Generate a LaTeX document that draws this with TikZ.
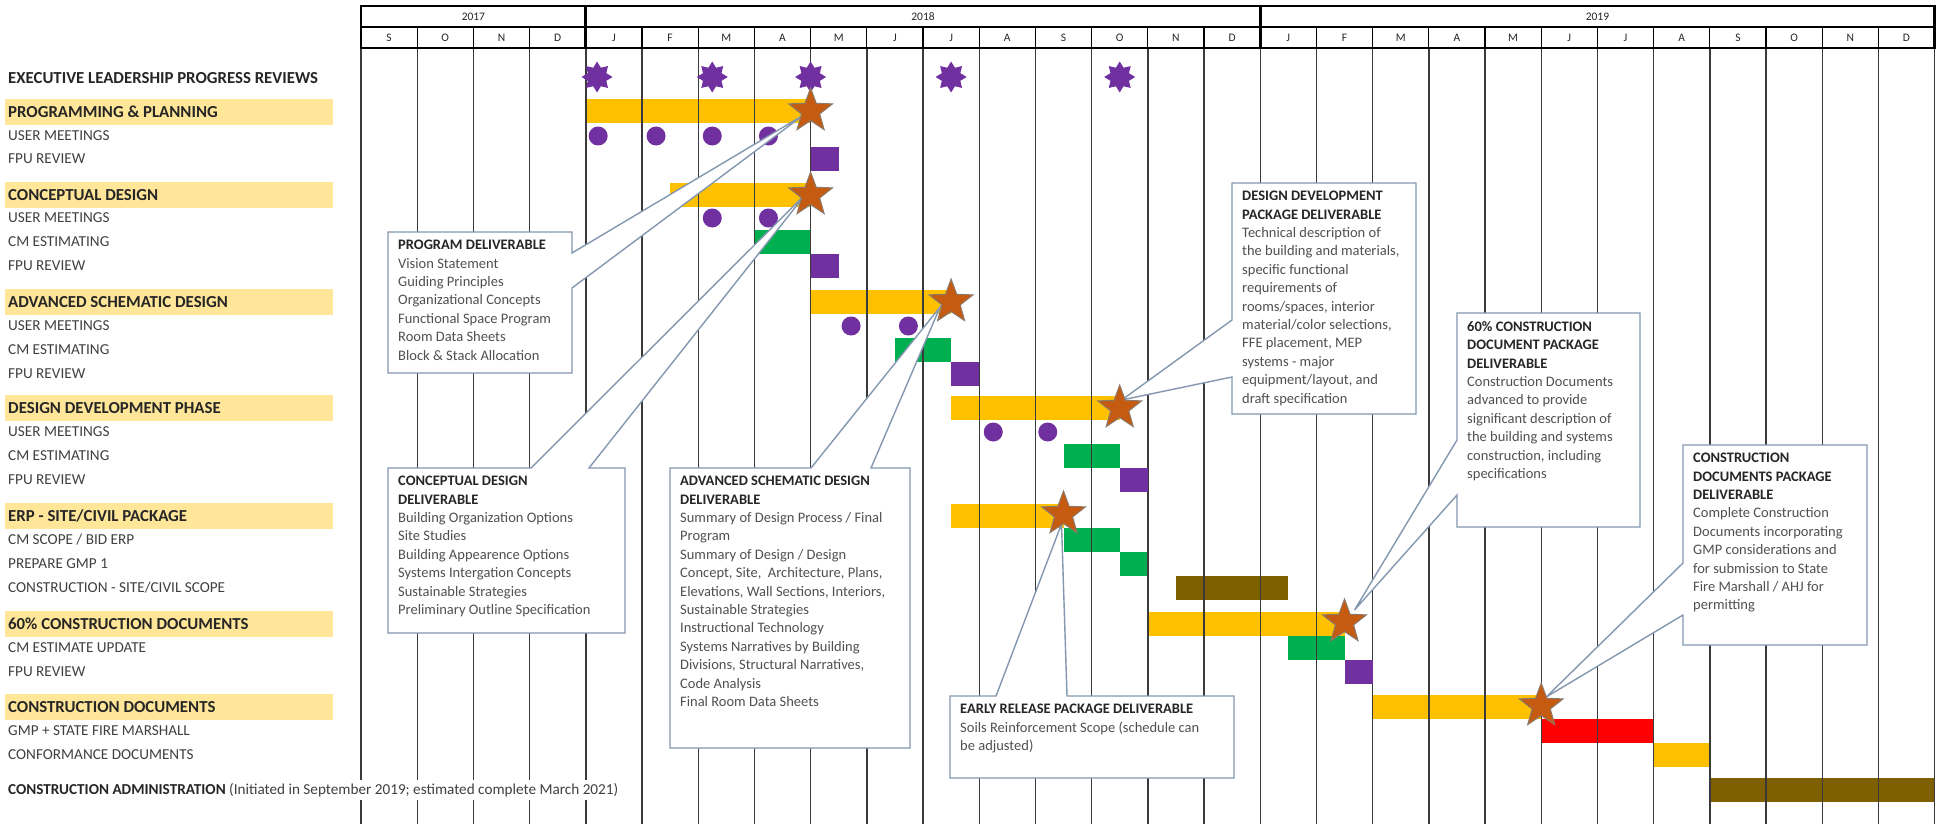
\documentclass[tikz,border=0pt]{standalone}
\usepackage{fontspec}
\setmainfont{Carlito}
\usetikzlibrary{shapes.geometric,calc}
\definecolor{gold}{HTML}{FFC000}
\definecolor{bandc}{HTML}{FFE699}
\definecolor{purp}{HTML}{7030A0}
\definecolor{grn}{HTML}{00B050}
\definecolor{brn}{HTML}{7F6000}
\definecolor{redb}{HTML}{FF0000}
\definecolor{orng}{HTML}{C55A11}
\definecolor{starline}{HTML}{8C7A6B}
\definecolor{calloutline}{HTML}{8497B0}
\definecolor{txtdark}{HTML}{262626}
\definecolor{txtgray}{HTML}{505050}
\definecolor{lblgray}{HTML}{404040}
\definecolor{gridc}{HTML}{3A3A3A}
\newcommand\chartbar[4]{\fill[#1] (#2,{#4-12}) rectangle (#3,{#4+12});}
\newcommand\fpusq[2]{\fill[purp] (#1,{#2-12}) rectangle ({#1+0.5},{#2+12});}
\begin{document}
\begin{tikzpicture}[x=1pt,y=-1pt,
 every node/.style={inner sep=0pt},
 rowlbl/.style={anchor=west, font=\fontsize{15.2}{17}\selectfont, text=lblgray},
 seclbl/.style={anchor=west, font=\fontsize{16.8}{19}\selectfont\bfseries, text=txtdark},
 callout/.style={fill=white, draw=calloutline, line width=1.4pt, line join=miter},
 ctext/.style={anchor=north west, align=left, font=\fontsize{14.5}{18.4}\selectfont, text=txtgray},
 hdr/.style={font=\fontsize{11.5}{13}\selectfont, text=txtdark},
 mstar/.style={star, star points=5, star point ratio=2.4, minimum size=46pt, fill=orng, draw=starline, line width=1pt},
 estar/.style={star, star points=8, star point ratio=1.55, minimum size=31pt, fill=purp},
 dot/.style={circle, fill=purp, minimum size=19pt},
]
\useasboundingbox (0,0) rectangle (1942,824);
\fill[white] (0,0) rectangle (1942,824);

% ---------- label bands ----------
\foreach \yy in {112,195,302,408,516,624,707}{
  \fill[bandc] (5,{\yy-13}) rectangle (333,{\yy+13});
}

% ---------- row labels ----------
\node[seclbl] (lexec) at (8,78) {EXECUTIVE LEADERSHIP PROGRESS REVIEWS};
\node[seclbl] (lpp) at (8,112) {PROGRAMMING \& PLANNING};
\node[rowlbl] (lpp1) at (8,136) {USER MEETINGS};
\node[rowlbl] (lpp2) at (8,159) {FPU REVIEW};
\node[seclbl] (lcd) at (8,195) {CONCEPTUAL DESIGN};
\node[rowlbl] (lcd1) at (8,218) {USER MEETINGS};
\node[rowlbl] (lcd2) at (8,242) {CM ESTIMATING};
\node[rowlbl] (lcd3) at (8,266) {FPU REVIEW};
\node[seclbl] (lasd) at (8,302) {ADVANCED SCHEMATIC DESIGN};
\node[rowlbl] (lasd1) at (8,326) {USER MEETINGS};
\node[rowlbl] (lasd2) at (8,350) {CM ESTIMATING};
\node[rowlbl] (lasd3) at (8,374) {FPU REVIEW};
\node[seclbl] (ldd) at (8,408) {DESIGN DEVELOPMENT PHASE};
\node[rowlbl] (ldd1) at (8,432) {USER MEETINGS};
\node[rowlbl] (ldd2) at (8,456) {CM ESTIMATING};
\node[rowlbl] (ldd3) at (8,480) {FPU REVIEW};
\node[seclbl] (lerp) at (8,516) {ERP - SITE/CIVIL PACKAGE};
\node[rowlbl] (lerp1) at (8,540) {CM SCOPE / BID ERP};
\node[rowlbl] (lerp2) at (8,564) {PREPARE GMP 1};
\node[rowlbl] (lerp3) at (8,588) {CONSTRUCTION - SITE/CIVIL SCOPE};
\node[seclbl] (lsix) at (8,624) {60\% CONSTRUCTION DOCUMENTS};
\node[rowlbl] (lsix1) at (8,648) {CM ESTIMATE UPDATE};
\node[rowlbl] (lsix2) at (8,672) {FPU REVIEW};
\node[seclbl] (lcdoc) at (8,707) {CONSTRUCTION DOCUMENTS};
\node[rowlbl] (lcdoc1) at (8,731) {GMP + STATE FIRE MARSHALL};
\node[rowlbl] (lcdoc2) at (8,755) {CONFORMANCE DOCUMENTS};

% ---------- chart ----------
\begin{scope}[shift={(361,0)}, x=56.2pt]
  % bars
  \chartbar{gold}{4}{8}{111}
  \chartbar{gold}{5.5}{8}{195}
  \chartbar{grn}{7}{8}{242}
  \chartbar{gold}{8}{10.5}{302}
  \chartbar{grn}{9.5}{10.5}{350}
  \chartbar{gold}{10.5}{13.5}{408}
  \chartbar{grn}{12.5}{13.5}{456}
  \chartbar{gold}{10.5}{12.5}{516}
  \chartbar{grn}{12.5}{13.5}{540}
  \chartbar{grn}{13.5}{14}{564}
  \chartbar{brn}{14.5}{16.5}{588}
  \chartbar{gold}{14}{17.5}{624}
  \chartbar{grn}{16.5}{17.5}{648}
  \chartbar{gold}{18}{21}{707}
  \chartbar{redb}{21}{23}{731}
  \chartbar{gold}{23}{24}{755}
  \chartbar{brn}{24}{28}{790}
  % grid
  \foreach \k in {0,...,28}{
    \draw[gridc, line width=1.4pt] (\k,48) -- (\k,824);
  }
  % header
  \fill[white] (0,6) rectangle (28,48);
  \foreach \k in {1,...,27}{
    \draw[black, line width=1.2pt] (\k,27) -- (\k,48);
  }
  \draw[black, line width=2.8pt] (0,27) -- (28,27);
  \draw[black, line width=2.8pt] (4,6) -- (4,48);
  \draw[black, line width=2.8pt] (16,6) -- (16,48);
  \draw[black, line width=2.8pt] (0,6) rectangle (28,48);
  \node[hdr] (y17) at (2,16.5) {2017};
  \node[hdr] (y18) at (10,16.5) {2018};
  \node[hdr] (y19) at (22,16.5) {2019};
  \foreach \m [count=\i from 0] in {S,O,N,D,J,F,M,A,M,J,J,A,S,O,N,D,J,F,M,A,M,J,J,A,S,O,N,D}{
    \node[hdr] (mon\i) at (\i+0.5,37.5) {\m};
  }
  % FPU review squares
  \fpusq{8}{159}
  \fpusq{8}{266}
  \fpusq{10.5}{374}
  \fpusq{13.5}{480}
  \fpusq{17.5}{672}
  % user meetings dots
  \node[dot] (d1) at (4.22,136) {};
  \node[dot] (d2) at (5.25,136) {};
  \node[dot] (d3) at (6.25,136) {};
  \node[dot] (d4) at (7.25,136) {};
  \node[dot] (d5) at (6.25,218) {};
  \node[dot] (d6) at (7.25,218) {};
  \node[dot] (d7) at (8.72,326) {};
  \node[dot] (d8) at (9.74,326) {};
  \node[dot] (d9) at (11.25,432) {};
  \node[dot] (d10) at (12.22,432) {};
  % executive reviews
  \node[estar] (e1) at (4.2,77) {};
  \node[estar] (e2) at (6.25,77) {};
  \node[estar] (e3) at (8.0,77) {};
  \node[estar] (e4) at (10.5,77) {};
  \node[estar] (e5) at (13.5,77) {};
  % milestone star positions
  \coordinate (spp) at (8,111);
  \coordinate (scd) at (8,195);
  \coordinate (sasd) at (10.5,302);
  \coordinate (sdd) at (13.5,408);
  \coordinate (serp) at (12.5,514);
  \coordinate (ssix) at (17.5,622);
  \coordinate (scdoc) at (21,706);
\end{scope}

% ---------- callout pointer tips ----------
\coordinate (t1) at ($(spp)+(-7,4)$);
\coordinate (t2) at ($(scd)+(-4,-2)$);
\coordinate (t3) at ($(sasd)+(-11,5)$);
\coordinate (t4) at ($(serp)+(-2,10)$);
\coordinate (t5) at ($(sdd)+(2,-8)$);
\coordinate (t6) at ($(ssix)+(10,-12)$);
\coordinate (t7) at ($(scdoc)+(5,-9)$);

% ---------- callouts ----------
% 1 Program deliverable (pointer on right edge)
\draw[callout] (388,232) -- (572,232) -- (572,253) -- (t1) -- (572,288) -- (572,373) -- (388,373) -- cycle;
\node[ctext] (c1) at (398,240) {{\color{txtdark}\bfseries PROGRAM DELIVERABLE}\\
Vision Statement\\Guiding Principles\\Organizational Concepts\\Functional Space Program\\Room Data Sheets\\Block \& Stack Allocation};
% 2 Conceptual design deliverable (pointer on top edge)
\draw[callout] (388,468) -- (531,468) -- (t2) -- (589,468) -- (625,468) -- (625,633) -- (388,633) -- cycle;
\node[ctext] (c2) at (398,476) {{\color{txtdark}\bfseries CONCEPTUAL DESIGN}\\{\color{txtdark}\bfseries DELIVERABLE}\\
Building Organization Options\\Site Studies\\Building Appearence Options\\Systems Intergation Concepts\\Sustainable Strategies\\Preliminary Outline Specification};
% 3 Advanced schematic design deliverable
\draw[callout] (670,468) -- (811,468) -- (t3) -- (871,468) -- (910,468) -- (910,748) -- (670,748) -- cycle;
\node[ctext] (c3) at (680,476) {{\color{txtdark}\bfseries ADVANCED SCHEMATIC DESIGN}\\{\color{txtdark}\bfseries DELIVERABLE}\\
Summary of Design Process / Final\\Program\\Summary of Design / Design\\Concept, Site,~ Architecture, Plans,\\Elevations, Wall Sections, Interiors,\\Sustainable Strategies\\Instructional Technology\\Systems Narratives by Building\\Divisions, Structural Narratives,\\Code Analysis\\Final Room Data Sheets};
% 4 Early release package deliverable
\draw[callout] (950,696) -- (996,696) -- (t4) -- (1067,696) -- (1234,696) -- (1234,778) -- (950,778) -- cycle;
\node[ctext] (c4) at (960,704) {{\color{txtdark}\bfseries EARLY RELEASE PACKAGE DELIVERABLE}\\
Soils Reinforcement Scope (schedule can\\be adjusted)};
% 5 Design development package deliverable (pointer on left edge)
\draw[callout] (1232,183) -- (1416,183) -- (1416,414) -- (1232,414) -- (1232,377) -- (t5) -- (1232,320) -- cycle;
\node[ctext] (c5) at (1242,191) {{\color{txtdark}\bfseries DESIGN DEVELOPMENT}\\{\color{txtdark}\bfseries PACKAGE DELIVERABLE}\\
Technical description of\\the building and materials,\\specific functional\\requirements of\\rooms/spaces, interior\\material/color selections,\\FFE placement, MEP\\systems - major\\equipment/layout, and\\draft specification};
% 6 60% construction document package deliverable
\draw[callout] (1457,313) -- (1640,313) -- (1640,527) -- (1457,527) -- (1457,495) -- (t6) -- (1457,440) -- cycle;
\node[ctext] (c6) at (1467,321) {{\color{txtdark}\bfseries 60\% CONSTRUCTION}\\{\color{txtdark}\bfseries DOCUMENT PACKAGE}\\{\color{txtdark}\bfseries DELIVERABLE}\\
Construction Documents\\advanced to provide\\significant description of\\the building and systems\\construction, including\\specifications};
% 7 Construction documents package deliverable
\draw[callout] (1683,445) -- (1867,445) -- (1867,645) -- (1683,645) -- (1683,615) -- (t7) -- (1683,563) -- cycle;
\node[ctext] (c7) at (1693,453) {{\color{txtdark}\bfseries CONSTRUCTION}\\{\color{txtdark}\bfseries DOCUMENTS PACKAGE}\\{\color{txtdark}\bfseries DELIVERABLE}\\
Complete Construction\\Documents incorporating\\GMP considerations and\\for submission to State\\Fire Marshall / AHJ for\\permitting};

% ---------- milestone stars ----------
\node[mstar] (mpp) at (spp) {};
\node[mstar] (mcd) at (scd) {};
\node[mstar] (masd) at (sasd) {};
\node[mstar] (mdd) at (sdd) {};
\node[mstar] (merp) at (serp) {};
\node[mstar] (msix) at (ssix) {};
\node[mstar] (mcdoc) at (scdoc) {};

% ---------- bottom label ----------
\node[anchor=west, fill=white, inner xsep=1pt, inner ysep=3pt, font=\fontsize{15.2}{17}\selectfont, text=lblgray] (lca) at (7,790)
 {{\color{txtdark}\bfseries CONSTRUCTION ADMINISTRATION} (Initiated in September 2019; estimated complete March 2021)};
\end{tikzpicture}
\end{document}
